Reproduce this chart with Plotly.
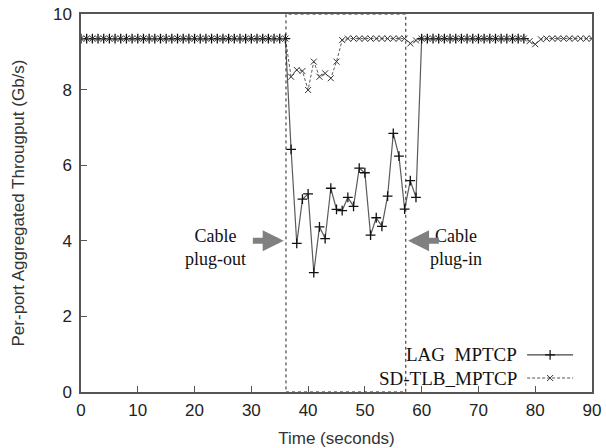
import plotly.graph_objects as go

# ---------------- data ----------------
steady = 9.35
lag_t = list(range(0, 37)) + list(range(37, 60)) + list(range(60, 79))
lag_v = ([steady] * 37 +
         [6.42, 3.93, 5.10, 5.24, 3.16, 4.37, 4.06, 5.39, 4.83, 4.80, 5.15, 4.91,
          5.92, 5.80, 4.15, 4.61, 4.38, 5.18, 6.84, 6.24, 4.84, 5.59, 5.15] +
         [steady] * 19)

sd_t = list(range(0, 91))
sd_v = ([steady] * 37 +
        [8.34, 8.52, 8.49, 7.99, 8.74, 8.34, 8.43, 8.30, 8.74, 9.31] +
        [steady] * 11 +
        [9.22, 9.30] +
        [steady] * 19 +
        [9.28, 9.20, 9.33] +
        [steady] * 10)

x_ticks = [0, 10, 20, 30, 40, 50, 60, 70, 80, 90]
y_ticks = [0, 2, 4, 6, 8, 10]
event_window = [36.1, 57.2]      # cable plug-out / plug-in times
names = ["LAG\u00a0 MPTCP", "SD-TLB_MPTCP"]

AX = "#555555"
fig = go.Figure()

fig.add_trace(go.Scatter(
    x=lag_t, y=lag_v, mode="lines+markers", name=names[0], showlegend=False,
    line=dict(color="#5a5a5a", width=1.2),
    marker=dict(symbol="cross-thin", size=7, line=dict(color="#111", width=1.3)),
))
fig.add_trace(go.Scatter(
    x=sd_t, y=sd_v, mode="lines+markers", name=names[1], showlegend=False,
    line=dict(color="#5a5a5a", width=1, dash="3px,2px"),
    marker=dict(symbol="x-thin", size=6, line=dict(color="#333", width=1)),
))

# legend samples on a hidden overlay axis
fig.add_trace(go.Scatter(
    x=[0.873, 0.918, 0.963], y=[0.098] * 3, xaxis="x2", yaxis="y2",
    mode="lines", showlegend=False, hoverinfo="skip",
    line=dict(color="#444", width=1.2)))
fig.add_trace(go.Scatter(
    x=[0.918], y=[0.098], xaxis="x2", yaxis="y2", mode="markers",
    showlegend=False, hoverinfo="skip",
    marker=dict(symbol="cross-thin", size=7, line=dict(color="#111", width=1.2))))
fig.add_trace(go.Scatter(
    x=[0.873, 0.963], y=[0.037] * 2, xaxis="x2", yaxis="y2",
    mode="lines", showlegend=False, hoverinfo="skip",
    line=dict(color="#555", width=1, dash="3px,2px")))
fig.add_trace(go.Scatter(
    x=[0.918], y=[0.037], xaxis="x2", yaxis="y2", mode="markers",
    showlegend=False, hoverinfo="skip",
    marker=dict(symbol="x-thin", size=6, line=dict(color="#333", width=1))))

# dotted event window
fig.add_shape(type="rect", x0=event_window[0], x1=event_window[1], y0=0, y1=10,
              xref="x", yref="y", line=dict(color="#222", width=1, dash="dot"))

serif = dict(family="Liberation Serif", size=18, color="#111")
fig.add_annotation(x=23.6, y=3.83, xref="x", yref="y", showarrow=False,
                   text="Cable<br>plug-out", font=serif, align="center")
fig.add_annotation(x=66.0, y=3.83, xref="x", yref="y", showarrow=False,
                   text="Cable<br>plug-in", font=serif, align="center")
fig.add_annotation(x=event_window[0] - 0.4, y=4.0, ax=30.0, ay=4.0,
                   xref="x", yref="y", axref="x", ayref="y", text="",
                   showarrow=True, arrowhead=2, arrowsize=0.7, arrowwidth=6,
                   arrowcolor="#808080")
fig.add_annotation(x=event_window[1] + 0.4, y=4.0, ax=63.3, ay=4.0,
                   xref="x", yref="y", axref="x", ayref="y", text="",
                   showarrow=True, arrowhead=2, arrowsize=0.7, arrowwidth=6,
                   arrowcolor="#808080")

for i, nm in enumerate(names):
    fig.add_annotation(x=0.858, y=[0.098, 0.037][i], xref="paper", yref="paper",
                       xanchor="right", yanchor="middle", showarrow=False,
                       text=nm, font=dict(family="Liberation Serif", size=19,
                                          color="#111"))

tickfont = dict(family="Liberation Sans", size=17, color="#222")
titlefont = dict(family="Liberation Sans", size=17, color="#333")
fig.update_layout(
    width=606, height=448,
    margin=dict(l=81, r=14, t=14, b=56),
    paper_bgcolor="white", plot_bgcolor="white",
    xaxis=dict(range=[0, 90], tickvals=x_ticks, ticks="inside", ticklen=6,
               tickcolor=AX, showline=True, linecolor=AX, linewidth=1.5,
               mirror=True, showgrid=False, zeroline=False, tickfont=tickfont,
               ticklabelstandoff=2, automargin=False,
               title=dict(text="Time (seconds)", font=titlefont, standoff=13)),
    yaxis=dict(range=[0, 10], tickvals=y_ticks, ticks="inside", ticklen=6,
               tickcolor=AX, showline=True, linecolor=AX, linewidth=1.5,
               mirror=True, showgrid=False, zeroline=False, tickfont=tickfont,
               ticklabelstandoff=4, automargin=False,
               title=dict(text="Per-port Aggregated Througput (Gb/s)",
                          font=titlefont, standoff=24)),
    xaxis2=dict(range=[0, 1], overlaying="x", visible=False),
    yaxis2=dict(range=[0, 1], overlaying="y", visible=False),
)

fig.write_html("out.html")
